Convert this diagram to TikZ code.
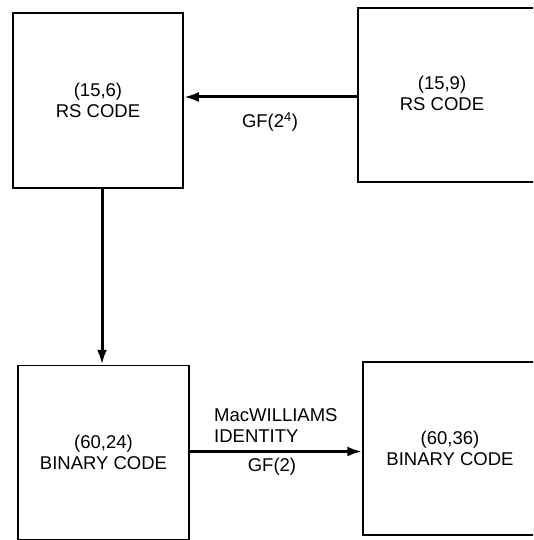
\documentclass[tikz,border=0pt]{standalone}
\usepackage{fontspec}
\setmainfont{Liberation Sans}
\usetikzlibrary{arrows.meta}
\begin{document}
\begin{tikzpicture}[x=1pt,y=-1pt,
  box/.style={draw=black,line width=1.5pt,rectangle,inner sep=0pt,align=center,
    font=\fontsize{18.5}{21}\selectfont},
  txt/.style={inner sep=0pt,align=center,font=\fontsize{18.5}{21}\selectfont},
  arr/.style={line width=3pt,-{Latex[length=15pt,width=10pt]}}]
\useasboundingbox (0,0) rectangle (533,540);
\clip (0,0) rectangle (533,540);
\node[box,minimum width=170pt,minimum height=175pt] (b1) at (98,100.5) {(15,6)\\RS CODE};
\node[box,minimum width=200pt,minimum height=174pt] (b2) at (458,95) {};
\node[txt] (t2) at (442,93) {(15,9)\\RS CODE};
\node[box,minimum width=171pt,minimum height=174pt] (b3) at (103.5,452.5) {(60,24)\\BINARY CODE};
\node[box,minimum width=174pt,minimum height=173pt] (b4) at (450,448.5) {(60,36)\\BINARY CODE};
\draw[arr] ([yshift=-2pt]b2.west) -- ([yshift=-2pt]b2.west -| b1.east);
\draw[arr] ([xshift=4pt]b1.south) -- ([xshift=4pt]b1.south |- b3.north);
\draw[arr] ([yshift=1pt]b3.east) -- ([yshift=1pt]b3.east -| b4.west);
\node[txt] (l1) at (270,122) {GF(2\textsuperscript{4})};
\node[txt,anchor=west,align=left] (l2) at (214,426) {MacWILLIAMS\\IDENTITY};
\node[txt] (l3) at (272,467) {GF(2)};
\end{tikzpicture}
\end{document}
